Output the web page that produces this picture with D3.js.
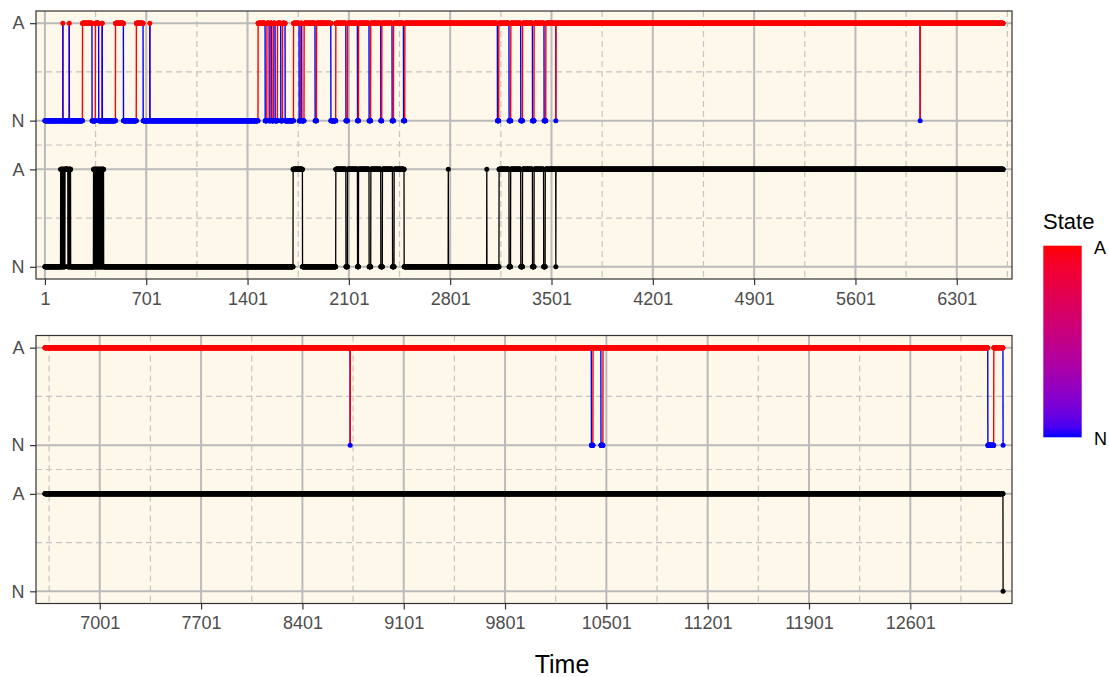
<!DOCTYPE html>
<html>
<head>
<meta charset="utf-8">
<script src="https://cdn.jsdelivr.net/npm/d3@7"></script>
<style>
  body { margin: 0; background: #fff; }
  text { font-family: "Liberation Sans", Arial, sans-serif; }
</style>
</head>
<body>
<div id="chart"></div>
<script>
// time steps shown in each row
const panelRanges = [[1, 6621], [6622, 13242]];

// runs (first, last time step) where the coloured State track is "A"; "N" elsewhere
const stateSpansA = [
  [125, 125], [169, 169], [261, 326], [350, 372], [396, 397], [489, 543], [633, 679], [726, 726],
  [1474, 1522], [1535, 1550], [1558, 1568], [1581, 1591], [1608, 1630], [1643, 1660],
  [1719, 1757], [1769, 1775], [1792, 1867], [1878, 1976], [2011, 2080], [2092, 2160],
  [2168, 2240], [2252, 2321], [2329, 2399], [2410, 2478], [2488, 3127], [3137, 3207],
  [3220, 3288], [3301, 3369], [3381, 3449], [3462, 3530], [3532, 6047], [6049, 8730],
  [8732, 10397], [10409, 10463], [10478, 13136], [13178, 13241]
];

// runs where the black track is "A"
const blackSpansA = [
  [110, 111], [115, 116], [120, 121], [125, 126], [130, 131], [135, 136], [140, 159],
  [164, 165], [169, 170], [174, 178],
  [337, 338], [342, 343], [347, 348], [352, 353], [357, 358], [362, 363], [367, 368],
  [372, 373], [377, 378], [382, 383], [387, 388], [392, 393], [397, 398], [402, 406],
  [1716, 1780], [2011, 2080], [2092, 2160], [2168, 2240], [2253, 2321], [2333, 2402],
  [2414, 2482], [2788, 2788], [3054, 3054], [3139, 3207], [3219, 3288], [3301, 3369],
  [3381, 3446], [3458, 3530], [3532, 13241]
];

const xTicks = [
  [1, 701, 1401, 2101, 2801, 3501, 4201, 4901, 5601, 6301],
  [7001, 7701, 8401, 9101, 9801, 10501, 11201, 11901, 12601]
];
// y value of each level: black track N/A at 0/2, State track N/A at 3/5
const yLevels = [0, 2, 3, 5];
const yLabels = ["N", "A", "N", "A"];
const legendLabels = ["A", "N"];

const W = 1109, H = 677;
const left = 36, right = 1012, panelW = right - left, panelH = 268;
const panelTops = [11, 335.5];
const cream = "#fdf8ea";

const svg = d3.select("#chart").append("svg")
  .attr("width", W).attr("height", H);

// expand the runs into one value per time step
const nSteps = panelRanges[1][1];
const fill = (spans) => {
  const arr = new Uint8Array(nSteps + 1);
  spans.forEach(([a, b]) => { for (let t = a; t <= b; t++) arr[t] = 1; });
  return arr;
};
const stateArr = fill(stateSpansA);
const blackArr = fill(blackSpansA);

const colour = d3.scaleLinear().domain([0, 1])
  .range(["#0000ff", "#ff0000"]).interpolate(d3.interpolateLab);

const y = d3.scaleLinear().domain([-0.25, 5.25]).range([panelH, 0]);

// split consecutive segments into runs of one colour (colour taken from the segment end)
function colourRuns(rows) {
  const out = [];
  let cur = null;
  for (let i = 1; i < rows.length; i++) {
    const v = rows[i].s;
    if (!cur || cur.v !== v) { cur = { v, pts: [rows[i - 1]] }; out.push(cur); }
    cur.pts.push(rows[i]);
  }
  return out;
}

panelRanges.forEach(([t0, t1], p) => {
  const pad = (t1 - t0) * 0.0093;
  const x = d3.scaleLinear().domain([t0 - pad, t1 + pad]).range([0, panelW]);
  const rows = d3.range(t0, t1 + 1).map(t => ({ t, s: stateArr[t], b: blackArr[t] }));

  const g = svg.append("g").attr("transform", `translate(${left},${panelTops[p]})`);

  g.append("rect").attr("width", panelW).attr("height", panelH).attr("fill", cream);

  // minor grid at the midpoints of the breaks
  const xt = xTicks[p];
  const step = xt[1] - xt[0];
  const xMinor = [xt[0] - step / 2, ...xt.map(d => d + step / 2)]
    .filter(d => d >= x.domain()[0] && d <= x.domain()[1]);
  const yMinor = d3.pairs(yLevels).map(([a, b]) => (a + b) / 2);

  const grid = g.append("g");
  grid.selectAll(".xminor").data(xMinor).join("line")
    .attr("x1", d => x(d)).attr("x2", d => x(d)).attr("y1", 0).attr("y2", panelH)
    .attr("stroke", "#c4c4c4").attr("stroke-width", 1.2).attr("stroke-dasharray", "6,4");
  grid.selectAll(".yminor").data(yMinor).join("line")
    .attr("x1", 0).attr("x2", panelW).attr("y1", d => y(d)).attr("y2", d => y(d))
    .attr("stroke", "#c4c4c4").attr("stroke-width", 1.2).attr("stroke-dasharray", "6,4");
  grid.selectAll(".xmajor").data(xt).join("line")
    .attr("x1", d => x(d)).attr("x2", d => x(d)).attr("y1", 0).attr("y2", panelH)
    .attr("stroke", "#bababa").attr("stroke-width", 2);
  grid.selectAll(".ymajor").data(yLevels).join("line")
    .attr("x1", 0).attr("x2", panelW).attr("y1", d => y(d)).attr("y2", d => y(d))
    .attr("stroke", "#bababa").attr("stroke-width", 2);

  // State track: lines then points
  const stateLine = d3.line().x(d => x(d.t)).y(d => y(3 + 2 * d.s));
  g.append("g").selectAll("path").data(colourRuns(rows)).join("path")
    .attr("d", d => stateLine(d.pts))
    .attr("fill", "none")
    .attr("stroke", d => colour(d.v))
    .attr("stroke-width", 1.4);
  g.append("g").selectAll("circle").data(rows).join("circle")
    .attr("cx", d => x(d.t)).attr("cy", d => y(3 + 2 * d.s)).attr("r", 2.5)
    .attr("fill", d => colour(d.s));

  // black track
  const blackLine = d3.line().x(d => x(d.t)).y(d => y(2 * d.b));
  g.append("path").datum(rows)
    .attr("d", blackLine).attr("fill", "none")
    .attr("stroke", "#000").attr("stroke-width", 1.3);
  g.append("g").selectAll("circle").data(rows).join("circle")
    .attr("cx", d => x(d.t)).attr("cy", d => y(2 * d.b)).attr("r", 2.5)
    .attr("fill", "#000");

  // border
  g.append("rect").attr("width", panelW).attr("height", panelH)
    .attr("fill", "none").attr("stroke", "#333").attr("stroke-width", 1.2);

  // axes
  const xa = g.append("g").attr("transform", `translate(0,${panelH})`)
    .call(d3.axisBottom(x).tickValues(xt).tickFormat(d3.format("d")).tickSize(6).tickPadding(7));
  const ya = g.append("g")
    .call(d3.axisLeft(y).tickValues(yLevels).tickFormat((d, i) => yLabels[i]).tickSize(6).tickPadding(5.5));
  [xa, ya].forEach(a => {
    a.select(".domain").remove();
    a.selectAll(".tick line").attr("stroke", "#333").attr("stroke-width", 1.2);
    a.selectAll(".tick text").attr("fill", "#4d4d4d")
      .style("font-size", "18px").style("font-family", "'Liberation Sans', Arial, sans-serif");
  });
});

// x title
svg.append("text").attr("x", 562).attr("y", 673)
  .attr("text-anchor", "middle").style("font-size", "25px").attr("fill", "#000")
  .text("Time");

// colour bar legend
const bar = { x: 1043.3, y: 245.7, w: 38.4, h: 191.6 };
const defs = svg.append("defs");
const grad = defs.append("linearGradient").attr("id", "stateGrad")
  .attr("x1", 0).attr("y1", 1).attr("x2", 0).attr("y2", 0);
grad.selectAll("stop").data(d3.range(0, 1.0001, 0.05)).join("stop")
  .attr("offset", d => d).attr("stop-color", d => colour(d));

svg.append("text").attr("x", 1043).attr("y", 229)
  .style("font-size", "22px").attr("fill", "#000").text("State");
svg.append("rect").attr("x", bar.x).attr("y", bar.y).attr("width", bar.w).attr("height", bar.h)
  .attr("fill", "url(#stateGrad)");

const legendY = d3.scaleLinear().domain([1, 0]).range([bar.y, bar.y + bar.h]);
svg.selectAll(".leglab").data(legendLabels).join("text")
  .attr("x", 1094).attr("y", (d, i) => legendY(1 - i) + 1.5).attr("dy", "0.36em")
  .style("font-size", "18px").attr("fill", "#000").text(d => d);
</script>
</body>
</html>
